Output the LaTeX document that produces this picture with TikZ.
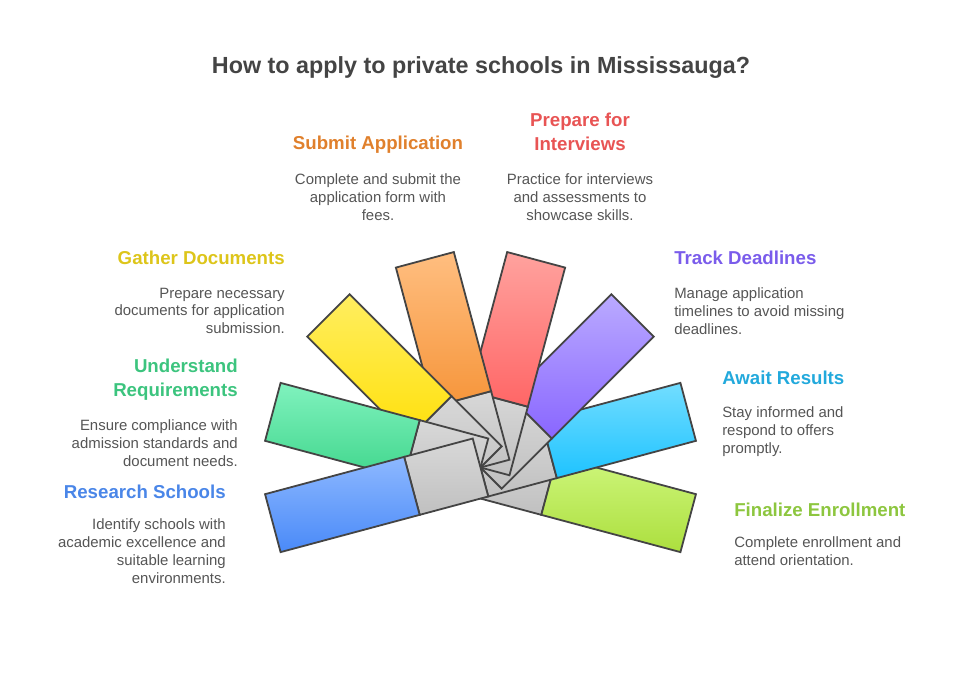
\documentclass[tikz,border=0pt]{standalone}
\usepackage{fontspec}
\setmainfont{Liberation Sans}
\usetikzlibrary{calc}
\definecolor{titlec}{HTML}{444444}
\definecolor{descc}{HTML}{555555}
\definecolor{outc}{HTML}{444444}
\definecolor{graytop}{HTML}{D8D8D8}
\definecolor{graybot}{HTML}{C0C0C0}
\definecolor{blueT}{HTML}{8DB8FF}\definecolor{blueB}{HTML}{4A8AF8}
\definecolor{greenT}{HTML}{80F2BE}\definecolor{greenB}{HTML}{40D68C}
\definecolor{yellowT}{HTML}{FFEE60}\definecolor{yellowB}{HTML}{FFE00A}
\definecolor{orangeT}{HTML}{FFBE80}\definecolor{orangeB}{HTML}{F6953A}
\definecolor{redT}{HTML}{FFA29E}\definecolor{redB}{HTML}{FF6666}
\definecolor{purpleT}{HTML}{BAAAFF}\definecolor{purpleB}{HTML}{8966FF}
\definecolor{cyanT}{HTML}{72DDFF}\definecolor{cyanB}{HTML}{1EC3FF}
\definecolor{limeT}{HTML}{CEF67C}\definecolor{limeB}{HTML}{ACDF3E}
\definecolor{hOrange}{HTML}{E0802C}
\definecolor{hRed}{HTML}{E85454}
\definecolor{hYellow}{HTML}{DDC51A}
\definecolor{hPurple}{HTML}{7A5CEB}
\definecolor{hGreen}{HTML}{3CC47E}
\definecolor{hCyan}{HTML}{22A9DC}
\definecolor{hBlue}{HTML}{4A86E8}
\definecolor{hLime}{HTML}{8DC63F}
\tikzset{
  outl/.style={draw=outc, line width=1.35pt, line join=miter},
  ttl/.style={font=\fontsize{17.5}{21}\selectfont\bfseries, text=titlec, inner sep=0pt},
  head/.style={font=\fontsize{14}{18}\selectfont\bfseries, inner sep=0pt},
  desc/.style={font=\fontsize{11.2}{13.4}\selectfont, text=descc, inner sep=0pt},
}
\newcommand\fanpiece[3]{%
  \draw[outl, top color=graytop, bottom color=graybot]
    ($(C)+(-#1+90:30)$) -- ($(C)+(-#1+90:30)+(-#1:71)$) -- ($(C)+(-#1-90:30)+(-#1:71)$) -- ($(C)+(-#1-90:30)$) -- cycle;
  \draw[outl, top color=#2, bottom color=#3]
    ($(C)+(-#1+90:30)+(-#1:71)$) -- ($(C)+(-#1+90:30)+(-#1:215)$) -- ($(C)+(-#1-90:30)+(-#1:215)$) -- ($(C)+(-#1-90:30)+(-#1:71)$) -- cycle;}
\begin{document}
\begin{tikzpicture}[x=0.75pt,y=-0.75pt]
\useasboundingbox (0,0) rectangle (960,684);
\coordinate (C) at (480.5,467.5);
\fanpiece{-15}{limeT}{limeB}
\fanpiece{15}{cyanT}{cyanB}
\fanpiece{45}{purpleT}{purpleB}
\fanpiece{75}{redT}{redB}
\fanpiece{105}{orangeT}{orangeB}
\fanpiece{135}{yellowT}{yellowB}
\fanpiece{165}{greenT}{greenB}
\fanpiece{195}{blueT}{blueB}

\node[ttl, anchor=north] (title) at (481,56) {How to apply to private schools in Mississauga?};

\node[head, text=hOrange, anchor=north] (h1) at (378,136) {Submit Application};
\node[desc, anchor=north, align=center] (d1) at (378,173.5) {Complete and submit the\\application form with\\fees.};

\node[head, text=hRed, anchor=north, align=center] (h2) at (580,112.5) {Prepare for\\Interviews};
\node[desc, anchor=north, align=center] (d2) at (580,173.5) {Practice for interviews\\and assessments to\\showcase skills.};

\node[head, text=hYellow, anchor=north east] (h3) at (285,250.5) {Gather Documents};
\node[desc, anchor=north east, align=right] (d3) at (285,287.5) {Prepare necessary\\documents for application\\submission.};

\node[head, text=hPurple, anchor=north west] (h4) at (674,250.5) {Track Deadlines};
\node[desc, anchor=north west, align=left] (d4) at (674,287.5) {Manage application\\timelines to avoid missing\\deadlines.};

\node[head, text=hGreen, anchor=north east, align=right] (h5) at (238,358.5) {Understand\\Requirements};
\node[desc, anchor=north east, align=right] (d5) at (238,419.5) {Ensure compliance with\\admission standards and\\document needs.};

\node[head, text=hCyan, anchor=north west] (h6) at (722,370.5) {Await Results};
\node[desc, anchor=north west, align=left] (d6) at (722,406.5) {Stay informed and\\respond to offers\\promptly.};

\node[head, text=hBlue, anchor=north east] (h7) at (226,484.5) {Research Schools};
\node[desc, anchor=north east, align=right] (d7) at (226,518.5) {Identify schools with\\academic excellence and\\suitable learning\\environments.};

\node[head, text=hLime, anchor=north west] (h8) at (734,502.5) {Finalize Enrollment};
\node[desc, anchor=north west, align=left] (d8) at (734,536.5) {Complete enrollment and\\attend orientation.};
\end{tikzpicture}
\end{document}
